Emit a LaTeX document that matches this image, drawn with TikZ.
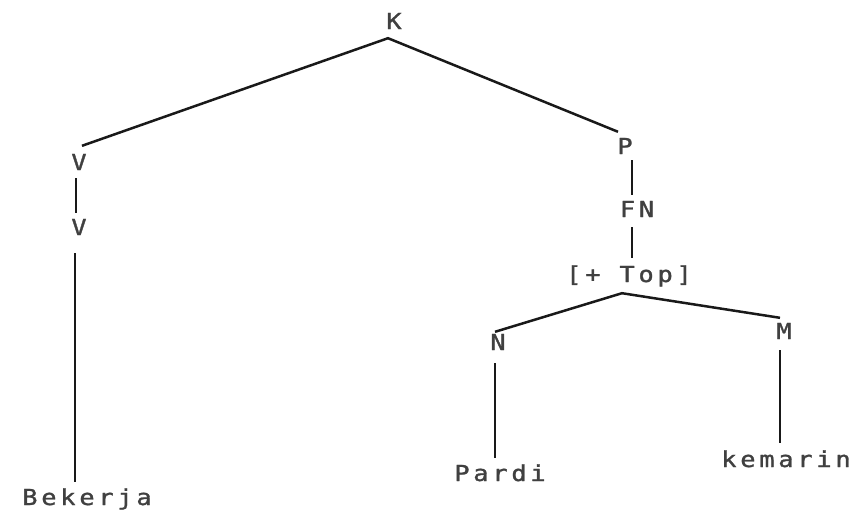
\documentclass[tikz,border=0pt]{standalone}
\usepackage{graphicx}
\usepackage{fontspec}
\setmonofont[LetterSpace=15,FakeBold=1.2]{DejaVu Sans Mono}
\newcommand\dmtext[1]{\scalebox{1.15}[1]{#1}}
\begin{document}
\begin{tikzpicture}[x=1pt,y=-1pt,
  lbl/.style={font=\ttfamily\fontsize{22}{22}\selectfont, text=black!75, inner sep=0pt, text height=14pt, text depth=0pt},
  edge/.style={draw=black!90, line width=2.5pt}]
\useasboundingbox (0,0) rectangle (852,512);
\node[lbl] (K) at (394,22) {\dmtext{K}};
\node[lbl] (V1) at (79,163) {\dmtext{V}};
\node[lbl] (V2) at (79,228) {\dmtext{V}};
\node[lbl] (Bek) at (87,498) {\dmtext{Bekerja}};
\node[lbl] (P) at (625,147) {\dmtext{P}};
\node[lbl] (FN) at (637,210) {\dmtext{FN}};
\node[lbl] (Top) at (629,275) {\dmtext{[+ Top]}};
\node[lbl] (N) at (498,343) {\dmtext{N}};
\node[lbl] (M) at (784,332) {\dmtext{M}};
\node[lbl] (Par) at (500,474) {\dmtext{Pardi}};
\node[lbl] (kem) at (786,460) {\dmtext{kemarin}};
% connectors
\draw[edge] ([xshift=3pt,yshift=10pt]V1.north) -- ([xshift=-6pt,yshift=-9pt]K.south) -- ([xshift=-7pt,yshift=8pt]P.north);
\draw[edge] ([xshift=-3pt,yshift=-8pt]V1.south) -- ([xshift=-3pt,yshift=8pt]V2.north);
\draw[edge] ([xshift=-4pt,yshift=-18pt]V2.south) -- ([xshift=-12pt,yshift=9pt]Bek.north);
\draw[edge] ([xshift=7pt,yshift=-6pt]P.south) -- ([xshift=-5pt,yshift=8pt]FN.north);
\draw[edge] ([xshift=-5pt,yshift=-10pt]FN.south) -- ([xshift=3pt,yshift=10pt]Top.north);
\draw[edge] ([xshift=-3pt,yshift=4pt]N.north) -- ([xshift=-7pt,yshift=-11pt]Top.south) -- ([xshift=-4pt,yshift=7pt]M.north);
\draw[edge] ([xshift=-3pt,yshift=-13pt]N.south) -- ([xshift=-5pt,yshift=9pt]Par.north);
\draw[edge] ([xshift=-4pt,yshift=-11pt]M.south) -- ([xshift=-6pt,yshift=10pt]kem.north);
\end{tikzpicture}
\end{document}
